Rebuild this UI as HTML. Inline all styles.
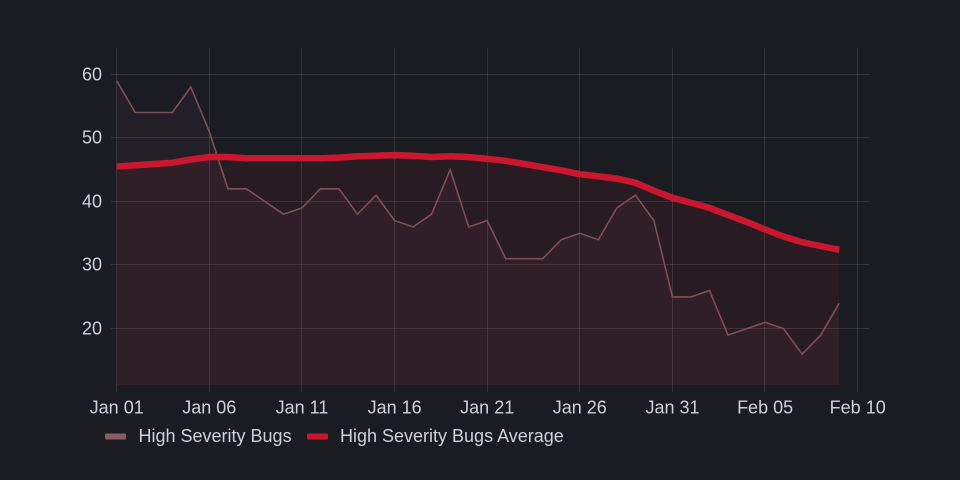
<!DOCTYPE html>
<html>
<head>
<meta charset="utf-8">
<style>
html,body{margin:0;padding:0;background:#1a1c21;}
body{width:960px;height:480px;overflow:hidden;}
svg{display:block;}
text{font-family:"Liberation Sans",Arial,sans-serif;fill:#cfd1da;font-size:18px;}
</style>
</head>
<body>
<svg width="960" height="480" viewBox="0 0 960 480" xmlns="http://www.w3.org/2000/svg">
<rect x="0" y="0" width="960" height="480" fill="#1a1c21"/>
<!-- fills -->
<polygon fill="#7d5058" fill-opacity="0.09" points="116.7,80.7 135.2,112.5 153.8,112.5 172.3,112.5 190.8,87.0 209.3,131.5 227.9,188.8 246.4,188.8 264.9,201.5 283.4,214.2 302.0,207.9 320.5,188.8 339.0,188.8 357.5,214.2 376.1,195.1 394.6,220.6 413.1,226.9 431.6,214.2 450.2,169.7 468.7,226.9 487.2,220.6 505.7,258.7 524.3,258.7 542.8,258.7 561.3,239.7 579.8,233.3 598.4,239.7 616.9,207.9 635.4,195.1 653.9,220.6 672.5,296.9 691.0,296.9 709.5,290.5 728.0,335.1 746.6,328.7 765.1,322.3 783.6,328.7 802.1,354.1 820.7,335.1 839.2,303.3 839.2,385 116.7,385"/>
<polygon fill="#c8182f" fill-opacity="0.09" points="116.7,166.5 135.2,165.3 153.8,164.0 172.3,162.7 190.8,159.5 209.3,157.0 227.9,157.0 246.4,158.2 264.9,158.2 283.4,158.2 302.0,158.2 320.5,158.2 339.0,157.6 357.5,156.3 376.1,155.7 394.6,155.1 413.1,155.7 431.6,157.0 450.2,156.3 468.7,157.0 487.2,158.9 505.7,160.8 524.3,164.0 542.8,167.2 561.3,170.3 579.8,174.2 598.4,176.3 616.9,178.6 635.4,182.8 653.9,190.6 672.5,197.8 691.0,202.8 709.5,207.9 728.0,214.9 746.6,221.9 765.1,229.5 783.6,236.5 802.1,242.2 820.7,246.0 839.2,249.8 839.2,385 116.7,385"/>
<!-- grid -->
<g stroke="#ffffff" stroke-opacity="0.11" stroke-width="1">
<line x1="111" y1="74.5" x2="869" y2="74.5"/>
<line x1="111" y1="137.5" x2="869" y2="137.5"/>
<line x1="111" y1="201.5" x2="869" y2="201.5"/>
<line x1="111" y1="264.5" x2="869" y2="264.5"/>
<line x1="111" y1="328.5" x2="869" y2="328.5"/>
<line x1="116.5" y1="48" x2="116.5" y2="392"/>
<line x1="209.5" y1="48" x2="209.5" y2="392"/>
<line x1="301.5" y1="48" x2="301.5" y2="392"/>
<line x1="394.5" y1="48" x2="394.5" y2="392"/>
<line x1="487.5" y1="48" x2="487.5" y2="392"/>
<line x1="579.5" y1="48" x2="579.5" y2="392"/>
<line x1="672.5" y1="48" x2="672.5" y2="392"/>
<line x1="764.5" y1="48" x2="764.5" y2="392"/>
<line x1="857.5" y1="48" x2="857.5" y2="392"/>
</g>
<!-- lines -->
<polyline fill="none" stroke="#7d5058" stroke-width="1.6" stroke-linejoin="miter" points="116.7,80.7 135.2,112.5 153.8,112.5 172.3,112.5 190.8,87.0 209.3,131.5 227.9,188.8 246.4,188.8 264.9,201.5 283.4,214.2 302.0,207.9 320.5,188.8 339.0,188.8 357.5,214.2 376.1,195.1 394.6,220.6 413.1,226.9 431.6,214.2 450.2,169.7 468.7,226.9 487.2,220.6 505.7,258.7 524.3,258.7 542.8,258.7 561.3,239.7 579.8,233.3 598.4,239.7 616.9,207.9 635.4,195.1 653.9,220.6 672.5,296.9 691.0,296.9 709.5,290.5 728.0,335.1 746.6,328.7 765.1,322.3 783.6,328.7 802.1,354.1 820.7,335.1 839.2,303.3"/>
<polyline fill="none" stroke="#c8172f" stroke-width="6.5" stroke-linejoin="round" points="116.7,166.5 135.2,165.3 153.8,164.0 172.3,162.7 190.8,159.5 209.3,157.0 227.9,157.0 246.4,158.2 264.9,158.2 283.4,158.2 302.0,158.2 320.5,158.2 339.0,157.6 357.5,156.3 376.1,155.7 394.6,155.1 413.1,155.7 431.6,157.0 450.2,156.3 468.7,157.0 487.2,158.9 505.7,160.8 524.3,164.0 542.8,167.2 561.3,170.3 579.8,174.2 598.4,176.3 616.9,178.6 635.4,182.8 653.9,190.6 672.5,197.8 691.0,202.8 709.5,207.9 728.0,214.9 746.6,221.9 765.1,229.5 783.6,236.5 802.1,242.2 820.7,246.0 839.2,249.8"/>
<!-- y labels -->
<g text-anchor="end">
<text x="102" y="80.5">60</text>
<text x="102" y="143.5">50</text>
<text x="102" y="207.5">40</text>
<text x="102" y="270.5">30</text>
<text x="102" y="334.5">20</text>
</g>
<!-- x labels -->
<g text-anchor="middle">
<text x="116.7" y="413.5">Jan 01</text>
<text x="209.3" y="413.5">Jan 06</text>
<text x="302.0" y="413.5">Jan 11</text>
<text x="394.6" y="413.5">Jan 16</text>
<text x="487.2" y="413.5">Jan 21</text>
<text x="579.8" y="413.5">Jan 26</text>
<text x="672.5" y="413.5">Jan 31</text>
<text x="765.1" y="413.5">Feb 05</text>
<text x="857.7" y="413.5">Feb 10</text>
</g>
<!-- legend -->
<rect x="105" y="433.5" width="21" height="6" rx="1" fill="#8a5b63"/>
<text x="138.5" y="442">High Severity Bugs</text>
<rect x="307" y="433.5" width="21" height="6" rx="1" fill="#c8172f"/>
<text x="340" y="442">High Severity Bugs Average</text>
</svg>
</body>
</html>
